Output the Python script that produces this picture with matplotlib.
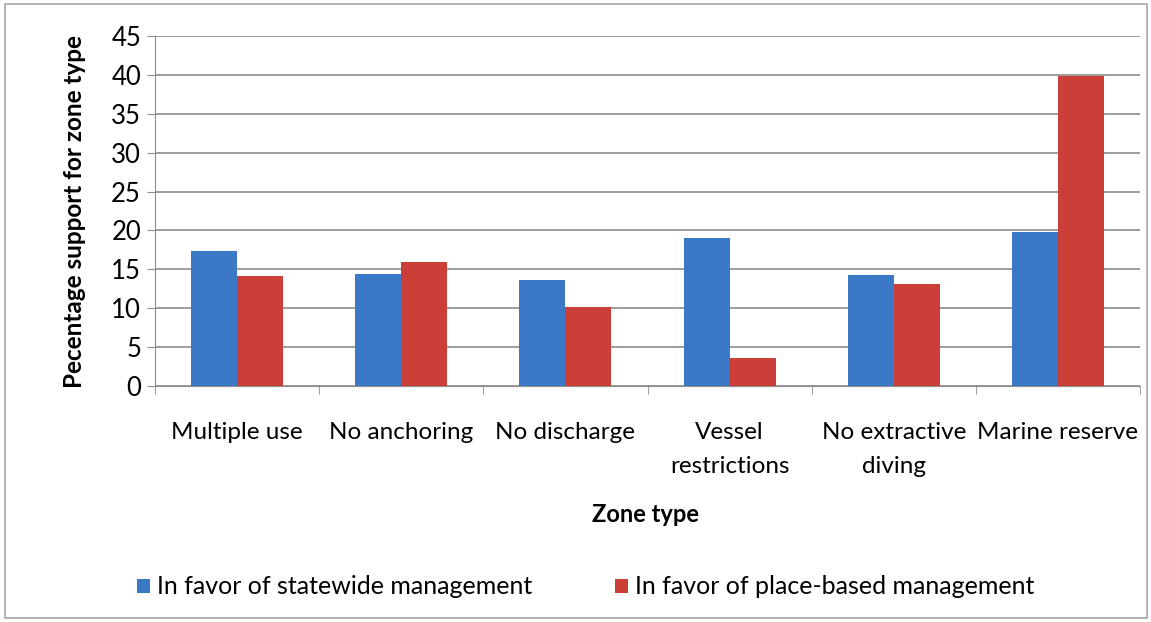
import matplotlib.pyplot as plt
import numpy as np
from matplotlib.patches import Rectangle

# data
zones = ['Multiple use', 'No anchoring', 'No discharge', 'Vessel\nrestrictions',
         'No extractive\ndiving', 'Marine reserve']
statewide = [17.4, 14.4, 13.6, 19.0, 14.3, 19.8]
place_based = [14.1, 16.0, 10.1, 3.6, 13.1, 39.8]
series_names = ['In favor of statewide management', 'In favor of place-based management']

blue = '#3b79c6'
red = '#cc3f38'
grid_col = '#8c8c8c'

plt.rcParams['font.family'] = ['Lato', 'DejaVu Sans']

fig = plt.figure(figsize=(11.51, 6.22), dpi=100)
W, H = 1151, 622
ax = fig.add_axes([155 / W, 1 - 386 / H, (1140 - 155) / W, (386 - 36) / H])

x = np.arange(len(zones))
bw = 0.28
b1 = ax.bar(x - bw / 2, statewide, bw, color=blue, label=series_names[0], zorder=3)
b2 = ax.bar(x + bw / 2, place_based, bw, color=red, label=series_names[1], zorder=3)

ax.set_xlim(-0.5, len(zones) - 0.5)
ax.set_ylim(0, 45)
ax.set_yticks(np.arange(0, 46, 5))
ax.yaxis.grid(True, color=grid_col, linewidth=1.2, zorder=0)
ax.set_axisbelow(True)

for s in ['top', 'right']:
    ax.spines[s].set_visible(False)
ax.spines['left'].set_color(grid_col)
ax.spines['bottom'].set_color(grid_col)

ax.tick_params(axis='y', length=6, color=grid_col, labelsize=18.5, pad=4)
ax.set_xticks(x)
ax.set_xticklabels(zones, fontsize=17.5, linespacing=1.75, va='top')
ax.tick_params(axis='x', length=0, pad=26)
# category separator ticks
ax.set_xticks(np.arange(-0.5, len(zones), 1), minor=True)
ax.tick_params(axis='x', which='minor', length=6, color=grid_col, direction='out')

ax.set_ylabel('Pecentage support for zone type', fontsize=17.5, fontweight='bold', labelpad=18)
fig.text(645 / W, 1 - 515 / H, 'Zone type', fontsize=17, fontweight='bold',
         ha='center', va='center')

fig.legend(handles=[b1, b2], labels=series_names, loc='center',
           bbox_to_anchor=(586 / W, 1 - 587 / H), ncol=2, frameon=False,
           fontsize=18, handlelength=0.5, handleheight=0.5, handletextpad=0.3,
           columnspacing=3.3)

# light frame around the whole chart
fig.patches.append(Rectangle((5 / W, 4 / H), 1142 / W, 614 / H, transform=fig.transFigure,
                             fill=False, edgecolor='#a6a6a6', linewidth=1.2))

fig.savefig('out.png', dpi=100)
